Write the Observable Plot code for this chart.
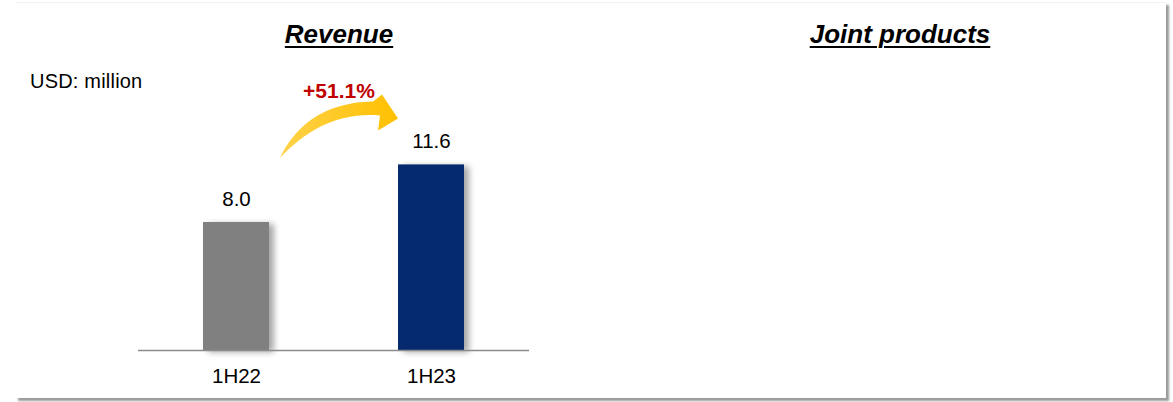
<!DOCTYPE html>
<html>
<head>
<meta charset="utf-8">
<script src="https://cdn.jsdelivr.net/npm/d3@7"></script>
<script src="https://cdn.jsdelivr.net/npm/@observablehq/plot@0.6"></script>
<style>
  html, body { margin: 0; padding: 0; background: #fff; }
  #page { position: relative; width: 1173px; height: 402px; overflow: hidden; font-family: "Liberation Sans", Arial, sans-serif; }
  #frame { position: absolute; left: 15px; top: 2px; width: 1151px; height: 395px; border-top: 1px solid #f2f2f2; box-shadow: 3px 3px 2px #9a9a9a; background: #fff; }
  .title { position: absolute; top: 19px; font-size: 26px; line-height: 30px; font-weight: bold; font-style: italic; text-decoration: underline; text-decoration-thickness: 2px; text-underline-offset: 3px; transform: translateX(-50%); white-space: nowrap; color: #000; }
  #unit { position: absolute; left: 30px; top: 70px; font-size: 20px; line-height: 22px; color: #000; letter-spacing: 0.2px; }
  #chart { position: absolute; left: 0; top: 0; }
  #chart g[aria-label="bar"] rect { filter: drop-shadow(5px 2px 3px rgba(0,0,0,0.35)); }
</style>
</head>
<body>
<div id="page">
  <div id="frame"></div>
  <div class="title" style="left:339px">Revenue</div>
  <div class="title" style="left:900px">Joint products</div>
  <div id="unit">USD: million</div>
  <div id="chart"></div>
</div>
<script>
const periods = ["1H22", "1H23"];
const revenue = [8.0, 11.6];
const barColors = ["#808080", "#062A6E"];
const growthLabel = "+51.1%";

const data = periods.map((p, i) => ({period: p, value: revenue[i], color: barColors[i]}));

const plot = Plot.plot({
  width: 1173,
  height: 402,
  marginLeft: 138,
  marginRight: 644,
  marginTop: 30,
  marginBottom: 52,
  style: {background: "transparent", fontFamily: "Liberation Sans, Arial, sans-serif", overflow: "visible"},
  x: {domain: periods, paddingInner: 0.662, paddingOuter: 0.333, axis: null},
  y: {domain: [0, 20], axis: null},
  marks: [
    Plot.barY(data, {x: "period", y: "value", fill: "color"}),
    Plot.ruleY([0], {stroke: "#8c8c8c", strokeWidth: 1.5}),
    Plot.text(data, {x: "period", y: "value", text: d => d.value.toFixed(1), dy: -23, lineAnchor: "middle", fontSize: 20.5, fill: "#000"}),
    Plot.text(data, {x: "period", y: 0, text: "period", dy: 26, lineAnchor: "middle", fontSize: 20.5, fill: "#000"})
  ]
});
document.getElementById("chart").appendChild(plot);

// Growth arrow anchored on the scales
const xs = plot.scale("x"), ys = plot.scale("y");
const bw = xs.bandwidth;
const c0 = xs.apply(periods[0]) + bw / 2;
const c1 = xs.apply(periods[1]) + bw / 2;
const top0 = ys.apply(revenue[0]);
const top1 = ys.apply(revenue[1]);
const tail = [c0 + 44, top0 - 64];
const tip = [c1 - 33, top1 - 46];
const T = (dx, dy) => `${tip[0] + dx},${tip[1] + dy}`;
const S = (dx, dy) => `${tail[0] + dx},${tail[1] + dy}`;
const d = [
  `M${S(0,0)}`,
  `C${S(14,-30)} ${S(42,-56)} ${T(-25,-17)}`,
  `L${T(-16,-24)}`,
  `L${T(0,0)}`,
  `L${T(-20,12)}`,
  `L${T(-18,-3)}`,
  `C${S(60,-46)} ${S(28,-30)} ${S(0,0)}`,
  "Z"
].join(" ");
const svg = d3.select(plot);
const defs = svg.append("defs");
const grad = defs.append("linearGradient").attr("id", "arrowGrad").attr("x1", "0").attr("x2", "1").attr("y1", "0").attr("y2", "0");
grad.append("stop").attr("offset", "0").attr("stop-color", "#FFD24A");
grad.append("stop").attr("offset", "1").attr("stop-color", "#FFC000");
svg.append("path").attr("d", d).attr("fill", "url(#arrowGrad)");
svg.append("text")
  .attr("x", (tail[0] + tip[0]) / 2)
  .attr("y", tip[1] - 26)
  .attr("text-anchor", "middle")
  .attr("dominant-baseline", "middle")
  .attr("font-size", 21)
  .attr("font-weight", "bold")
  .attr("fill", "#C00000")
  .text(growthLabel);
</script>
</body>
</html>
